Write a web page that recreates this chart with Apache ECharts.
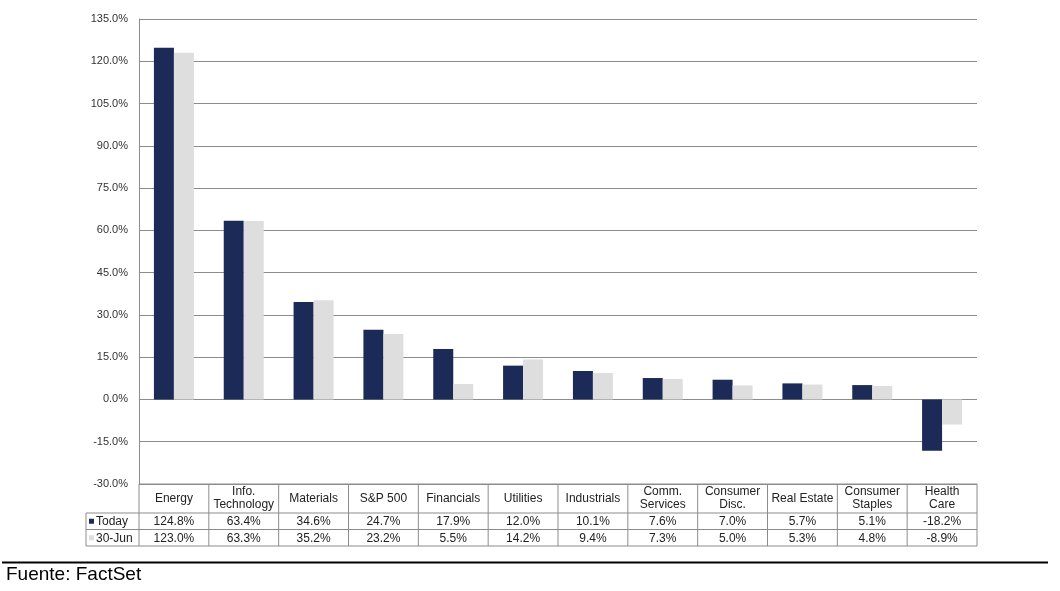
<!DOCTYPE html>
<html style="height: 100%">
<head>
    <meta charset="utf-8">
    <title>Sector earnings growth</title>
    <script src="https://cdn.jsdelivr.net/npm/echarts@6/dist/echarts.min.js"></script>
</head>
<body style="height: 100%; margin: 0; background: #fff">
<div id="container" style="width: 1060px; height: 591px"></div>
<script type="text/javascript">
    // sectors (header row of the table, "\n" = line break)
    var categories = ['Energy', 'Info.\nTechnology', 'Materials', 'S&P 500', 'Financials', 'Utilities',
        'Industrials', 'Comm.\nServices', 'Consumer\nDisc.', 'Real Estate', 'Consumer\nStaples', 'Health\nCare'];
    var today = [124.8, 63.4, 34.6, 24.7, 17.9, 12.0, 10.1, 7.6, 7.0, 5.7, 5.1, -18.2];
    var june30 = [123.0, 63.3, 35.2, 23.2, 5.5, 14.2, 9.4, 7.3, 5.0, 5.3, 4.8, -8.9];
    var seriesNames = ['Today', '30-Jun'];
    var colors = ['#1b2a56', '#dedede'];

    var dom = document.getElementById("container");
    var myChart = echarts.init(dom);
    var txt = '#222';
    var lineColor = '#8c8c8c';
    var font = 'Liberation Sans, Arial, sans-serif';

    var option = {
        animation: false,
        textStyle: {fontFamily: font},
        grid: {left: 139, right: 83, top: 19, bottom: 107},
        xAxis: {
            type: 'category',
            data: categories,
            axisLine: {show: false},
            axisTick: {show: false},
            axisLabel: {show: false}
        },
        yAxis: {
            type: 'value',
            min: -30,
            max: 135,
            interval: 15,
            axisLine: {show: true, lineStyle: {color: lineColor}},
            axisTick: {show: false},
            axisLabel: {
                color: '#333',
                fontSize: 11,
                margin: 11,
                formatter: function (v) { return v.toFixed(1) + '%'; }
            },
            splitLine: {lineStyle: {color: lineColor, width: 1}}
        },
        series: [
            {name: seriesNames[0], type: 'bar', data: today, barWidth: 20, barGap: '0%',
                itemStyle: {color: colors[0]}},
            {name: seriesNames[1], type: 'bar', data: june30, barWidth: 20, barGap: '0%',
                itemStyle: {color: colors[1]}}
        ]
    };
    myChart.setOption(option);

    // data table under the plot
    var c0 = myChart.convertToPixel({xAxisIndex: 0}, 0);
    var c1 = myChart.convertToPixel({xAxisIndex: 0}, 1);
    var step = c1 - c0;
    var left = c0 - step / 2;
    var right = left + step * categories.length;
    var yTop = myChart.convertToPixel({yAxisIndex: 0}, -30);
    var yRow1 = yTop + 29, yRow2 = yRow1 + 16.5, yBot = yRow2 + 16.5;
    var legLeft = left - 53;
    var els = [];
    var ls = {stroke: lineColor, lineWidth: 1};
    function hline(x1, x2, y) {
        els.push({type: 'line', shape: {x1: x1, y1: y, x2: x2, y2: y}, style: ls});
    }
    function vline(x, y1, y2) {
        els.push({type: 'line', shape: {x1: x, y1: y1, x2: x, y2: y2}, style: ls});
    }
    hline(left, right, yTop);
    hline(legLeft, right, yRow1);
    hline(legLeft, right, yRow2);
    hline(legLeft, right, yBot);
    vline(legLeft, yRow1, yBot);
    for (var k = 0; k <= categories.length; k++) {
        vline(left + k * step, yTop, yBot);
    }
    var rows = [today, june30];
    var rowY = [(yRow1 + yRow2) / 2, (yRow2 + yBot) / 2];
    categories.forEach(function (name, i) {
        var cx = left + step * (i + 0.5);
        els.push({type: 'text', x: cx, y: (yTop + yRow1) / 2,
            style: {text: name, align: 'center', verticalAlign: 'middle', fontSize: 12,
                lineHeight: 13, fill: txt, fontFamily: font}});
        rows.forEach(function (r, j) {
            els.push({type: 'text', x: cx, y: rowY[j] + 0.5,
                style: {text: r[i].toFixed(1) + '%', align: 'center', verticalAlign: 'middle',
                    fontSize: 12, fill: txt, fontFamily: font}});
        });
    });
    seriesNames.forEach(function (n, j) {
        els.push({type: 'rect', shape: {x: legLeft + 3, y: rowY[j] - 2.5, width: 5, height: 5},
            style: {fill: colors[j]}});
        els.push({type: 'text', x: legLeft + 10, y: rowY[j] + 0.5,
            style: {text: n, align: 'left', verticalAlign: 'middle', fontSize: 12, fill: txt,
                fontFamily: font}});
    });
    // source line
    els.push({type: 'line', shape: {x1: 2, y1: 562.5, x2: 1048, y2: 562.5},
        style: {stroke: '#000', lineWidth: 2}});
    els.push({type: 'text', x: 6, y: 575,
        style: {text: 'Fuente: FactSet', align: 'left', verticalAlign: 'middle', fontSize: 19,
            fill: '#000', fontFamily: font}});
    myChart.setOption({graphic: {elements: els}});
</script>
</body>
</html>
